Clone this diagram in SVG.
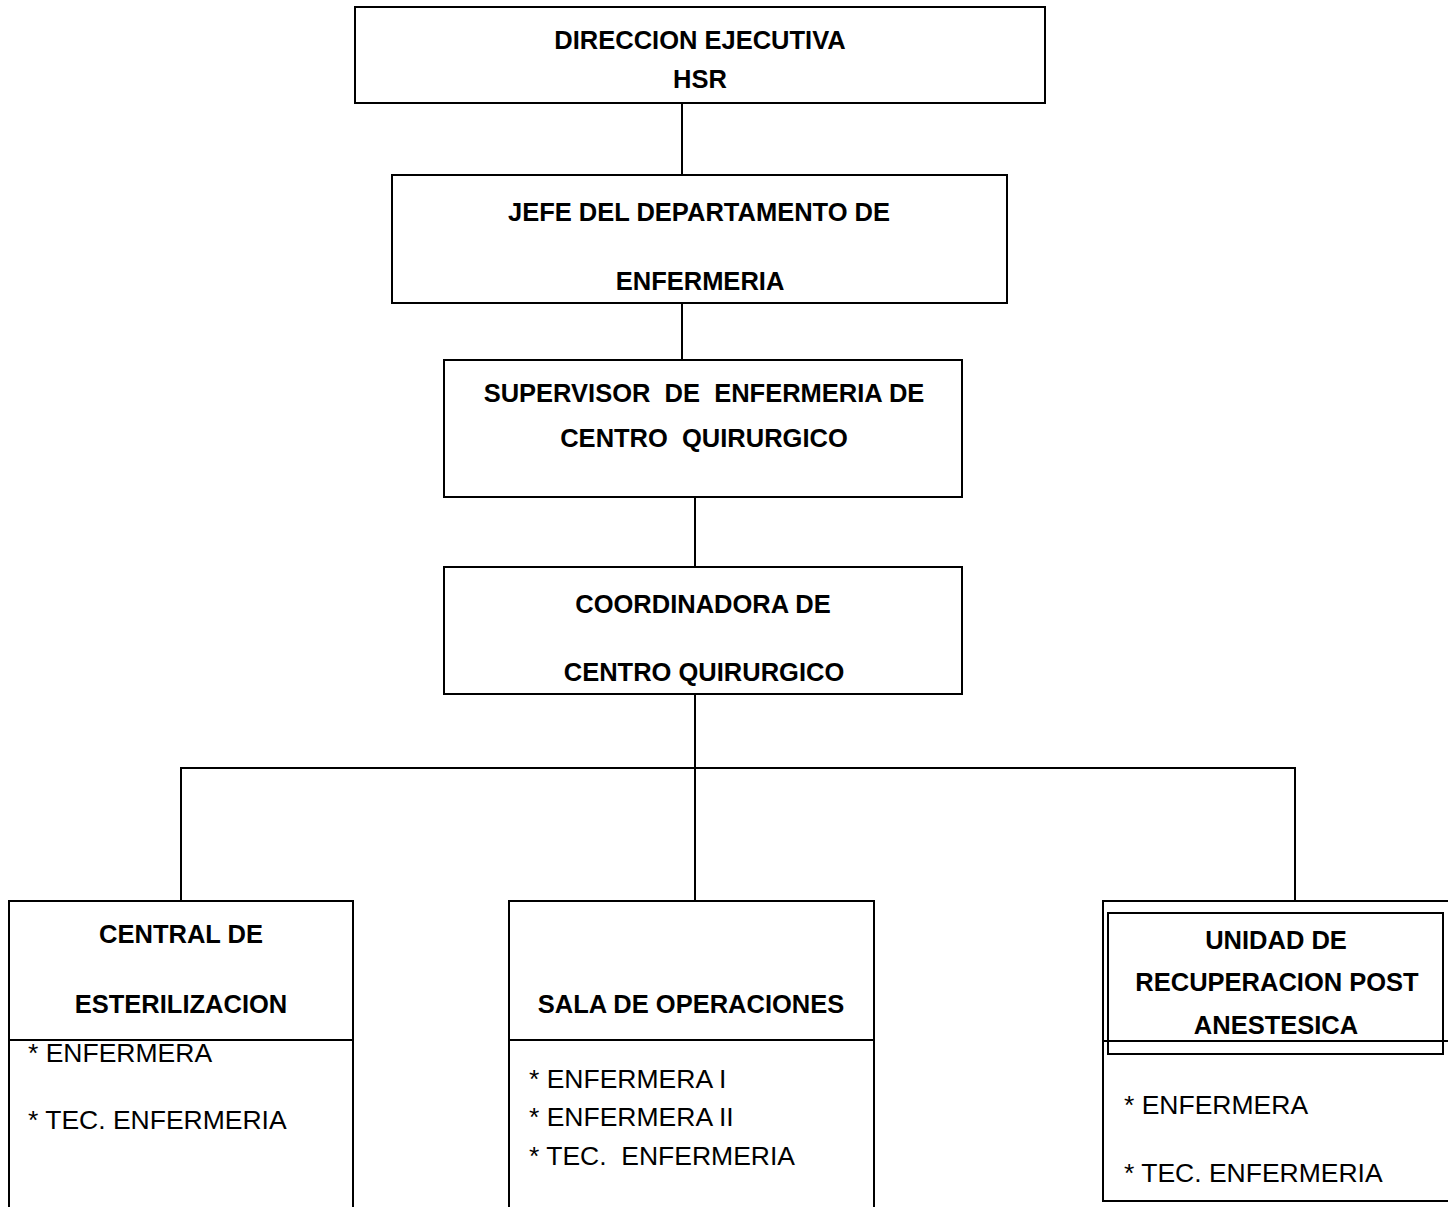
<svg xmlns="http://www.w3.org/2000/svg" width="1448" height="1207" viewBox="0 0 1448 1207">
<style>
.box{fill:#fff;stroke:#000;stroke-width:2}
.ln{fill:none;stroke:#000;stroke-width:2}
.t{font-family:"Liberation Sans",Arial,sans-serif;font-weight:bold;font-size:25.5px;fill:#000;text-anchor:middle;white-space:pre}
.r{font-family:"Liberation Sans",Arial,sans-serif;font-size:26.5px;fill:#000;white-space:pre}
</style>
<rect width="1448" height="1207" fill="#fff"/>
<g id="connectors">
<line class="ln" x1="682" y1="103" x2="682" y2="175"/>
<line class="ln" x1="682" y1="303" x2="682" y2="360"/>
<line class="ln" x1="695" y1="497" x2="695" y2="567"/>
<line class="ln" x1="695" y1="694" x2="695" y2="768"/>
<line class="ln" x1="180" y1="768" x2="1296" y2="768"/>
<line class="ln" x1="181" y1="768" x2="181" y2="901"/>
<line class="ln" x1="695" y1="768" x2="695" y2="901"/>
<line class="ln" x1="1295" y1="768" x2="1295" y2="901"/>
</g>
<g id="direccion">
<rect class="box" x="355" y="7" width="690" height="96"/>
<text class="t" x="700" y="49">DIRECCION EJECUTIVA</text>
<text class="t" x="700" y="88">HSR</text>
</g>
<g id="jefe">
<rect class="box" x="392" y="175" width="615" height="128"/>
<text class="t" x="699" y="221">JEFE DEL DEPARTAMENTO DE</text>
<text class="t" x="700" y="290">ENFERMERIA</text>
</g>
<g id="supervisor">
<rect class="box" x="444" y="360" width="518" height="137"/>
<text class="t" x="704" y="402">SUPERVISOR  DE  ENFERMERIA DE</text>
<text class="t" x="704" y="447">CENTRO  QUIRURGICO</text>
</g>
<g id="coordinadora">
<rect class="box" x="444" y="567" width="518" height="127"/>
<text class="t" x="703" y="613">COORDINADORA DE</text>
<text class="t" x="704" y="681">CENTRO QUIRURGICO</text>
</g>
<g id="central">
<rect class="box" x="9" y="901" width="344" height="310"/>
<line class="ln" x1="9" y1="1040" x2="353" y2="1040"/>
<text class="t" x="181" y="943">CENTRAL DE</text>
<text class="t" x="181" y="1013">ESTERILIZACION</text>
<text class="r" x="28" y="1062">* ENFERMERA</text>
<text class="r" x="28" y="1129">* TEC. ENFERMERIA</text>
</g>
<g id="sala">
<rect class="box" x="509" y="901" width="365" height="310"/>
<line class="ln" x1="509" y1="1040" x2="874" y2="1040"/>
<text class="t" x="691" y="1013">SALA DE OPERACIONES</text>
<text class="r" x="529" y="1088">* ENFERMERA I</text>
<text class="r" x="529" y="1126">* ENFERMERA II</text>
<text class="r" x="529" y="1165">* TEC.  ENFERMERIA</text>
</g>
<g id="unidad">
<rect class="box" x="1103" y="901" width="350" height="300"/>
<rect class="box" x="1108" y="913" width="335" height="141" fill="none" style="fill:none"/>
<line class="ln" x1="1103" y1="1041" x2="1448" y2="1041"/>
<text class="t" x="1276" y="949">UNIDAD DE</text>
<text class="t" x="1277" y="991">RECUPERACION POST</text>
<text class="t" x="1276" y="1034">ANESTESICA</text>
<text class="r" x="1124" y="1114">* ENFERMERA</text>
<text class="r" x="1124" y="1182">* TEC. ENFERMERIA</text>
</g>
</svg>
